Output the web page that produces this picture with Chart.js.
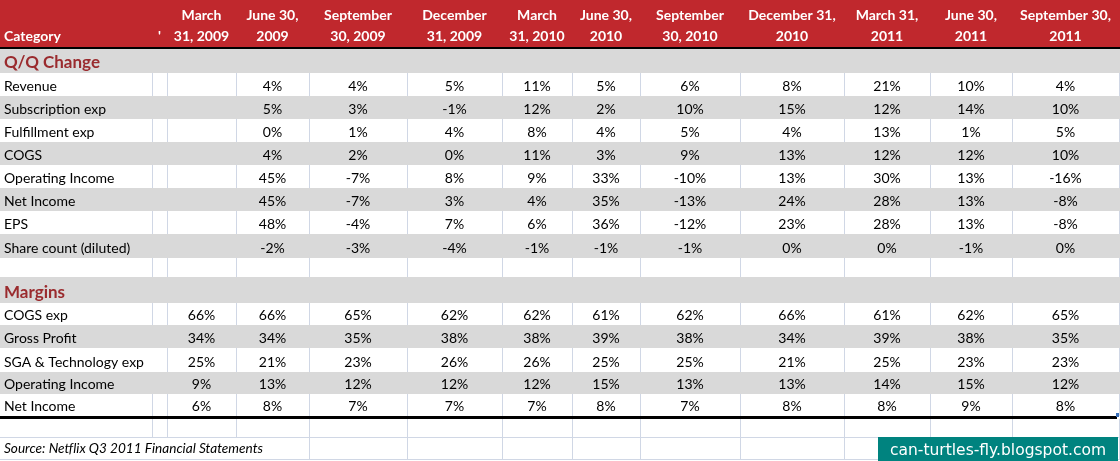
<!DOCTYPE html>
<html><head><meta charset="utf-8">
<script src="https://cdn.jsdelivr.net/npm/chart.js@4/dist/chart.umd.min.js"></script>
<style>html,body{margin:0;padding:0;background:#fff;overflow:hidden}canvas{display:block}</style>
</head><body>
<canvas id="c" width="1120" height="461"></canvas>
<script>
// ---------- DATA ----------
const categoryHeader = "Category";
const spacerHeader = "'";
const periods = ["March 31, 2009","June 30, 2009","September 30, 2009","December 31, 2009","March 31, 2010","June 30, 2010","September 30, 2010","December 31, 2010","March 31, 2011","June 30, 2011","September 30, 2011"];
const periodHeaderLines = [["March","31, 2009"],["June 30,","2009"],["September","30, 2009"],["December","31, 2009"],["March","31, 2010"],["June 30,","2010"],["September","30, 2010"],["December 31,","2010"],["March 31,","2011"],["June 30,","2011"],["September 30,","2011"]];

const qqTitle = "Q/Q Change";
const qqCategories = ["Revenue","Subscription exp","Fulfillment exp","COGS","Operating Income","Net Income","EPS","Share count (diluted)"];
const qqRevenue      = [null, 4,  4,  5, 11,  5,   6,  8, 21, 10,   4];
const qqSubscription = [null, 5,  3, -1, 12,  2,  10, 15, 12, 14,  10];
const qqFulfillment  = [null, 0,  1,  4,  8,  4,   5,  4, 13,  1,   5];
const qqCogs         = [null, 4,  2,  0, 11,  3,   9, 13, 12, 12,  10];
const qqOperating    = [null,45, -7,  8,  9, 33, -10, 13, 30, 13, -16];
const qqNetIncome    = [null,45, -7,  3,  4, 35, -13, 24, 28, 13,  -8];
const qqEps          = [null,48, -4,  7,  6, 36, -12, 23, 28, 13,  -8];
const qqShareCount   = [null,-2, -3, -4, -1, -1,  -1,  0,  0, -1,   0];

const marginsTitle = "Margins";
const marginCategories = ["COGS exp","Gross Profit","SGA & Technology exp","Operating Income","Net Income"];
const mgCogs        = [66,66,65,62,62,61,62,66,61,62,65];
const mgGrossProfit = [34,34,35,38,38,39,38,34,39,38,35];
const mgSgaTech     = [25,21,23,26,26,25,25,21,25,23,23];
const mgOperating   = [ 9,13,12,12,12,15,13,13,14,15,12];
const mgNetIncome   = [ 6, 8, 7, 7, 7, 8, 7, 8, 8, 9, 8];

const sourceNote = "Source: Netflix Q3 2011 Financial Statements";
const blogLabel = "can-turtles-fly.blogspot.com";

// ---------- LAYOUT / STYLE ----------
const W = 1120, H = 461;
const colEdges = [0,152,167,236,309,407,502,572,640,740,844,930,1012,1119];
const qqEdges = [73,96,119,142,165,188,211,234,258];
const mgEdges = [303,325,348,372,394,416];
const RED = "#C0282D", TITLE = "#9A2B2E", GRAY = "#D9D9D9", GRID = "#D0D7E5", TEAL = "#00837F";
const FONT = "Lato";

const qqSeries = [qqRevenue,qqSubscription,qqFulfillment,qqCogs,qqOperating,qqNetIncome,qqEps,qqShareCount];
const mgSeries = [mgCogs,mgGrossProfit,mgSgaTech,mgOperating,mgNetIncome];

const tablePlugin = {
  id: "table",
  beforeDraw(chart) {
    const ctx = chart.ctx, sx = chart.scales.x, sy = chart.scales.y;
    const X = v => sx.getPixelForValue(v), Y = v => sy.getPixelForValue(v);
    const rect = (x0,y0,x1,y1,c) => { ctx.fillStyle = c; ctx.fillRect(X(x0),Y(y0),X(x1)-X(x0),Y(y1)-Y(y0)); };
    const vline = (xv,y0,y1) => { ctx.strokeStyle = GRID; ctx.lineWidth = 1; ctx.beginPath(); ctx.moveTo(Math.round(X(xv))+0.5,Y(y0)); ctx.lineTo(Math.round(X(xv))+0.5,Y(y1)); ctx.stroke(); };
    const hline = (yv,x0,x1,c,w) => { ctx.fillStyle = c; ctx.fillRect(X(x0),Y(yv),X(x1)-X(x0),w); };
    const colCenter = i => (colEdges[i]+colEdges[i+1])/2;
    const text = (t,xv,yv,font,color,align) => { ctx.font = font; ctx.fillStyle = color; ctx.textAlign = align; ctx.textBaseline = "alphabetic"; ctx.fillText(t,X(xv),Y(yv)); };

    ctx.save();
    rect(0,0,W,H,"#fff");

    // header
    rect(0,0,W,47,RED);
    hline(47,0,W,"#000",2);
    text(categoryHeader,4,41,`bold 14px ${FONT}`,"#fff","left");
    text(spacerHeader,colCenter(1),41,`bold 14px ${FONT}`,"#fff","center");
    periodHeaderLines.forEach((lines,i) => {
      text(lines[0],colCenter(i+2),20,`bold 14px ${FONT}`,"#fff","center");
      text(lines[1],colCenter(i+2),41,`bold 14px ${FONT}`,"#fff","center");
    });

    // section: Q/Q
    rect(0,49,W,73,GRAY);
    text(qqTitle,4,68,`bold 17px ${FONT}`,TITLE,"left");
    qqCategories.forEach((cat,r) => {
      const top = qqEdges[r], bot = qqEdges[r+1];
      if (r % 2 === 1) rect(0,top,W,bot,GRAY);
      else colEdges.slice(1).forEach(e => vline(e,top,bot));
      text(cat,4,bot-5,`14px ${FONT}`,"#000","left");
      qqSeries[r].forEach((v,i) => { if (v !== null) text(v+"%",colCenter(i+2),bot-5,`14px ${FONT}`,"#000","center"); });
    });

    // blank row
    colEdges.slice(1).forEach(e => vline(e,258,277));

    // section: Margins
    rect(0,277,W,303,GRAY);
    text(marginsTitle,4,298,`bold 17px ${FONT}`,TITLE,"left");
    marginCategories.forEach((cat,r) => {
      const top = mgEdges[r], bot = mgEdges[r+1];
      if (r % 2 === 1) rect(0,top,W,bot,GRAY);
      else colEdges.slice(1).forEach((e,k) => { if (!(r === 2 && k === 0)) vline(e,top,bot); });
      text(cat,4,bot-5,`14px ${FONT}`,"#000","left");
      mgSeries[r].forEach((v,i) => text(v+"%",colCenter(i+2),bot-5,`14px ${FONT}`,"#000","center"));
    });
    hline(416,0,1117,"#000",3);
    rect(1116,413,1119,417,"#3A6FB8");

    // blank row + source row
    colEdges.slice(1).forEach(e => vline(e,419,437));
    hline(437,0,W,GRID,1);
    colEdges.slice(4).forEach(e => vline(e,437,459));
    hline(459,0,W,GRID,1);
    text(sourceNote,4,453,`italic 13.6px ${FONT}`,"#000","left");

    // blog badge
    rect(878,437,1118,H,TEAL);
    ctx.font = `16px "DejaVu Sans"`; ctx.fillStyle = "#fff"; ctx.textAlign = "center"; ctx.textBaseline = "alphabetic";
    ctx.fillText(blogLabel, X(998), Y(455), X(1106)-X(890));
    ctx.restore();
  }
};

new Chart(document.getElementById("c"), {
  type: "scatter",
  data: { datasets: [] },
  options: {
    responsive: false, animation: false, devicePixelRatio: 1,
    layout: { padding: 0 },
    plugins: { legend: { display: false }, tooltip: { enabled: false } },
    scales: {
      x: { type: "linear", min: 0, max: W, display: false },
      y: { type: "linear", min: 0, max: H, reverse: true, display: false }
    }
  },
  plugins: [tablePlugin]
});
</script>
</body></html>
